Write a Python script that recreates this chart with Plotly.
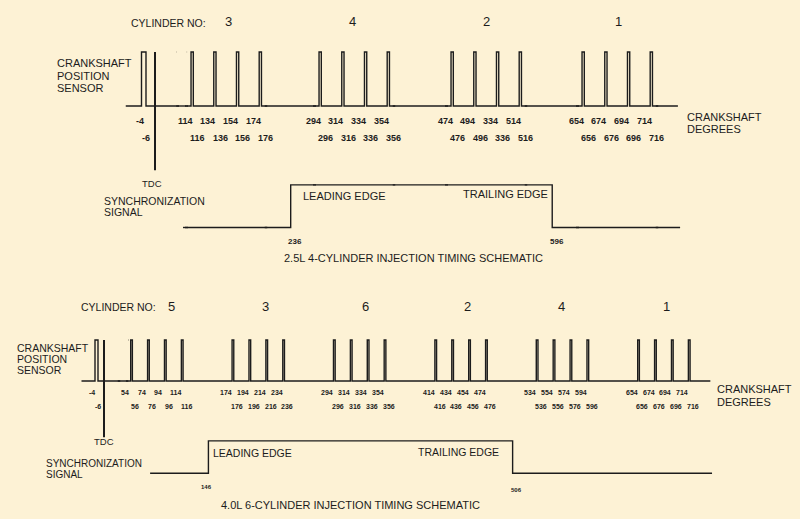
import plotly.graph_objects as go

# ---------------- data ----------------
# 2.5L 4-cylinder schematic
CYL_4 = ["3", "4", "2", "1"]
PULSE_ON_4 = [-4, 114, 134, 154, 174, 294, 314, 334, 354, 474, 494, 514, 534, 654, 674, 694, 714]
PULSE_OFF_4 = [-6, 116, 136, 156, 176, 296, 316, 336, 356, 476, 496, 516, 536, 656, 676, 696, 716]
GROUP_4 = [-1, 0, 0, 0, 0, 1, 1, 1, 1, 2, 2, 2, 2, 3, 3, 3, 3]
LABEL_ON_4 = ["-4", "114", "134", "154", "174", "294", "314", "334", "354",
              "474", "494", "334", "514", "654", "674", "694", "714"]
LABEL_OFF_4 = ["-6", "116", "136", "156", "176", "296", "316", "336", "356",
               "476", "496", "336", "516", "656", "676", "696", "716"]
SYNC_EDGES_4 = [236, 596]
SENSOR_SPAN_4 = [-13, 758]
SYNC_SPAN_4 = [71, 762]

# 4.0L 6-cylinder schematic
CYL_6 = ["5", "3", "6", "2", "4", "1"]
PULSE_ON_6 = [-4, 54, 74, 94, 114, 174, 194, 214, 234, 294, 314, 334, 354,
              414, 434, 454, 474, 534, 554, 574, 594, 654, 674, 694, 714]
PULSE_OFF_6 = [-6, 56, 76, 96, 116, 176, 196, 216, 236, 296, 316, 336, 356,
               416, 436, 456, 476, 536, 556, 576, 596, 656, 676, 696, 716]
GROUP_6 = [-1, 0, 0, 0, 0, 1, 1, 1, 1, 2, 2, 2, 2, 3, 3, 3, 3, 4, 4, 4, 4, 5, 5, 5, 5]
LABEL_ON_6 = [str(v) for v in PULSE_ON_6]
LABEL_OFF_6 = [str(v) for v in PULSE_OFF_6]
SYNC_EDGES_6 = [146, 506]
SENSOR_SPAN_6 = [-15, 740]
SYNC_SPAN_6 = [77, 742]

# ---------------- layout / style ----------------
W, H = 800, 519
BG = "#FDF2D5"
INK = "#1c1c1c"
FONT = "Liberation Sans, Arial, Helvetica, sans-serif"
LINE_W = 1.4

SENSOR_LOW, SENSOR_HIGH = 0, 1
SYNC_HIGH, SYNC_LOW = -1.46, -2.25

# The schematic is drawn "not to scale": a broken degree axis where each piece
# is a regular linear Plotly x-axis (degree range -> horizontal pixel span).
TOP_SEGMENTS = [(-16, 10, 119, 177.5), (10, 110, 177.5, 186.5),
                (110, 180, 186.5, 266), (180, 290, 266, 314.5),
                (290, 360, 314.5, 394), (360, 470, 394, 446.5),
                (470, 540, 446.5, 526), (540, 650, 526, 577.5),
                (650, 720, 577.5, 657), (720, 780, 657, 690)]
BOTTOM_SEGMENTS = [(-16, 10, 80, 119), (10, 50, 119, 127.3), (50, 750, 127.3, 718.8)]
SEG_OVERLAP_PX = 1.5  # neighbouring pieces overlap slightly so lines stay joined
# vertical scales: (pixel row of level 0, pixels per level unit)
TOP_Y = (106, 54)
BOTTOM_Y = (381, 41)
# small horizontal nudges of the cylinder numbers (pixels)
CYL_4_NUDGE = [3, -1, 1, 2]
CYL_6_NUDGE = [15, 8, 7, 7, 0, 3]


def px(x):
    return x / W


def py(y):
    return 1 - y / H


fig = go.Figure()
layout_axes = {}
ann = []


def sensor_path(on, off, span):
    xs, ys = [span[0]], [SENSOR_LOW]
    for a, b in zip(on, off):
        lo, hi = min(a, b), max(a, b)
        xs += [lo, lo, hi, hi]
        ys += [SENSOR_LOW, SENSOR_HIGH, SENSOR_HIGH, SENSOR_LOW]
    xs.append(span[1])
    ys.append(SENSOR_LOW)
    return xs, ys


def sync_path(edges, span):
    r, f = edges
    return ([span[0], r, r, f, f, span[1]],
            [SYNC_LOW, SYNC_LOW, SYNC_HIGH, SYNC_HIGH, SYNC_LOW, SYNC_LOW])


def clip_steps(xs, ys, lo, hi, hlo, hhi):
    """Part of a step path inside the degree window: verticals in [lo, hi),
    horizontals trimmed to the slightly wider window [hlo, hhi]."""
    ox, oy = [], []
    for (x0, y0), (x1, y1) in zip(zip(xs, ys), zip(xs[1:], ys[1:])):
        if y0 == y1:
            a0, b0 = min(x0, x1), max(x0, x1)
            a = a0 if a0 >= lo else max(a0, hlo)
            b = b0 if b0 <= hi else min(b0, hhi)
            if a >= b:
                continue
            seg = [(a, y0), (b, y0)] if x0 <= x1 else [(b, y0), (a, y0)]
        else:
            if not (lo <= x0 < hi):
                continue
            seg = [(x0, y0), (x1, y1)]
        if ox and ox[-1] is not None and (ox[-1], oy[-1]) == seg[0]:
            ox.append(seg[1][0])
            oy.append(seg[1][1])
        else:
            if ox:
                ox.append(None)
                oy.append(None)
            ox += [seg[0][0], seg[1][0]]
            oy += [seg[0][1], seg[1][1]]
    return ox, oy


axis_common = dict(visible=False, showgrid=False, zeroline=False, fixedrange=True)
axis_counter = [0]


def build_panel(segments, yname, ypos, on, off, sspan, edges, yspan, tdc_bottom):
    y0, scale = ypos
    yid = "yaxis" if yname == "y" else "yaxis" + yname[1:]
    names, windows = [], []
    for (dlo, dhi, plo, phi) in segments:
        axis_counter[0] += 1
        n = axis_counter[0]
        xname = "x" if n == 1 else "x%d" % n
        xid = "xaxis" if n == 1 else "xaxis%d" % n
        dpp = (dhi - dlo) / (phi - plo)  # degrees per pixel in this piece
        e = SEG_OVERLAP_PX
        hlo, hhi = dlo - e * dpp, dhi + e * dpp
        layout_axes[xid] = dict(range=[hlo, hhi],
                                domain=[max(0, px(plo - e)), min(1, px(phi + e))],
                                anchor=yname, **axis_common)
        names.append(xname)
        windows.append((dlo, dhi, hlo, hhi))
    ydef = dict(range=[-(H - y0) / scale, y0 / scale], domain=[0, 1],
                anchor=names[0], **axis_common)
    if yname != "y":
        ydef["overlaying"] = "y"
    layout_axes[yid] = ydef
    sx, sy = sensor_path(on, off, sspan)
    yx, yy = sync_path(edges, yspan)
    for xname, win in zip(names, windows):
        for xs, ys in ((sx, sy), (yx, yy)):
            cx, cy = clip_steps(xs, ys, *win)
            if not cx:
                continue
            fig.add_trace(go.Scatter(x=cx, y=cy, mode="lines", xaxis=xname, yaxis=yname,
                                     line=dict(color=INK, width=LINE_W), hoverinfo="skip",
                                     connectgaps=False, showlegend=False))
    tdc_axis = names[[i for i, s in enumerate(segments) if s[0] <= 0 < s[1]][0]]
    fig.add_trace(go.Scatter(x=[0, 0], y=[SENSOR_HIGH, tdc_bottom], mode="lines",
                             xaxis=tdc_axis, yaxis=yname,
                             line=dict(color=INK, width=2), hoverinfo="skip",
                             showlegend=False))

    def axis_for(v):
        for nm, s in zip(names, segments):
            if s[0] <= v < s[1]:
                return nm
        return names[-1]
    return axis_for


def text(t, x, y, size=11, anchor="left", xref="paper", bold=False, xshift=0):
    ann.append(dict(text=("<b>%s</b>" % t) if bold else t,
                    x=px(x) if xref == "paper" else x, y=py(y),
                    xref=xref, yref="paper", xanchor=anchor, yanchor="middle",
                    showarrow=False, xshift=xshift,
                    font=dict(family=FONT, size=size, color=INK)))


def group_centers(on, groups, n):
    out = []
    for k in range(n):
        vals = [v for v, g in zip(on, groups) if g == k]
        out.append(sum(vals) / len(vals))
    return out


ax4 = build_panel(TOP_SEGMENTS, "y", TOP_Y, PULSE_ON_4, PULSE_OFF_4,
                  SENSOR_SPAN_4, SYNC_EDGES_4, SYNC_SPAN_4, -1.19)
ax6 = build_panel(BOTTOM_SEGMENTS, "y2", BOTTOM_Y, PULSE_ON_6, PULSE_OFF_6,
                  SENSOR_SPAN_6, SYNC_EDGES_6, SYNC_SPAN_6, -1.37)

# ---- top panel texts ----
text("CYLINDER NO:", 129, 23, 10.5)
for c, xc, nd in zip(CYL_4, group_centers(PULSE_ON_4, GROUP_4, len(CYL_4)), CYL_4_NUDGE):
    text(c, xc, 21, 13, "center", ax4(xc), xshift=nd)
for i, t in enumerate(["CRANKSHAFT", "POSITION", "SENSOR"]):
    text(t, 55, 63 + 12.5 * i, 11)
for i, t in enumerate(["CRANKSHAFT", "DEGREES"]):
    text(t, 685, 117 + 11.5 * i, 11)
for v, t in zip(PULSE_ON_4, LABEL_ON_4):
    text(t, v, 121, 9, "center", ax4(v), True, -6)
for v, t in zip(PULSE_OFF_4, LABEL_OFF_4):
    text(t, v, 138, 9, "center", ax4(v), True, 4)
text("TDC", 0, 183, 9.5, "center", ax4(0), xshift=-3)
text("SYNCHRONIZATION", 102, 201, 10.5)
text("SIGNAL", 102, 212, 10.5)
text("LEADING EDGE", 301, 196, 11)
text("TRAILING EDGE", 550, 194, 11, "right")
text(str(SYNC_EDGES_4[0]), SYNC_EDGES_4[0], 241, 8, "center", ax4(SYNC_EDGES_4[0]), True, 4)
text(str(SYNC_EDGES_4[1]), SYNC_EDGES_4[1], 241, 8, "center", ax4(SYNC_EDGES_4[1]), True, 5)
text("2.5L 4-CYLINDER INJECTION TIMING SCHEMATIC", 414, 258, 11, "center")

# ---- bottom panel texts ----
text("CYLINDER NO:", 79, 307, 10.5)
for c, xc, nd in zip(CYL_6, group_centers(PULSE_ON_6, GROUP_6, len(CYL_6)), CYL_6_NUDGE):
    text(c, xc, 306, 13, "center", ax6(xc), xshift=nd)
for i, t in enumerate(["CRANKSHAFT", "POSITION", "SENSOR"]):
    text(t, 15, 348 + 11 * i, 10.5)
for i, t in enumerate(["CRANKSHAFT", "DEGREES"]):
    text(t, 715, 389 + 13 * i, 11)
for v, t in zip(PULSE_ON_6, LABEL_ON_6):
    text(t, v, 392, 7, "center", ax6(v), True, -6)
for v, t in zip(PULSE_OFF_6, LABEL_OFF_6):
    text(t, v, 406, 7, "center", ax6(v), True, 3)
text("TDC", 0, 441, 9.5, "center", ax6(0))
text("SYNCHRONIZATION", 44, 463, 10)
text("SIGNAL", 44, 474, 10)
text("LEADING EDGE", 211, 453, 10.5)
text("TRAILING EDGE", 501, 452, 10.5, "right")
text(str(SYNC_EDGES_6[0]), SYNC_EDGES_6[0], 487, 6, "center", ax6(SYNC_EDGES_6[0]), True, -2)
text(str(SYNC_EDGES_6[1]), SYNC_EDGES_6[1], 490, 6, "center", ax6(SYNC_EDGES_6[1]), True, 4)
text("4.0L 6-CYLINDER INJECTION TIMING SCHEMATIC", 350, 505, 11, "center")

fig.update_layout(
    width=W, height=H, margin=dict(l=0, r=0, t=0, b=0),
    paper_bgcolor=BG, plot_bgcolor="rgba(0,0,0,0)", showlegend=False,
    annotations=ann, **layout_axes,
)

fig.write_html("out.html", config={"displayModeBar": False, "staticPlot": True},
               post_script="document.body.style.margin='0';document.body.style.overflow='hidden';")
